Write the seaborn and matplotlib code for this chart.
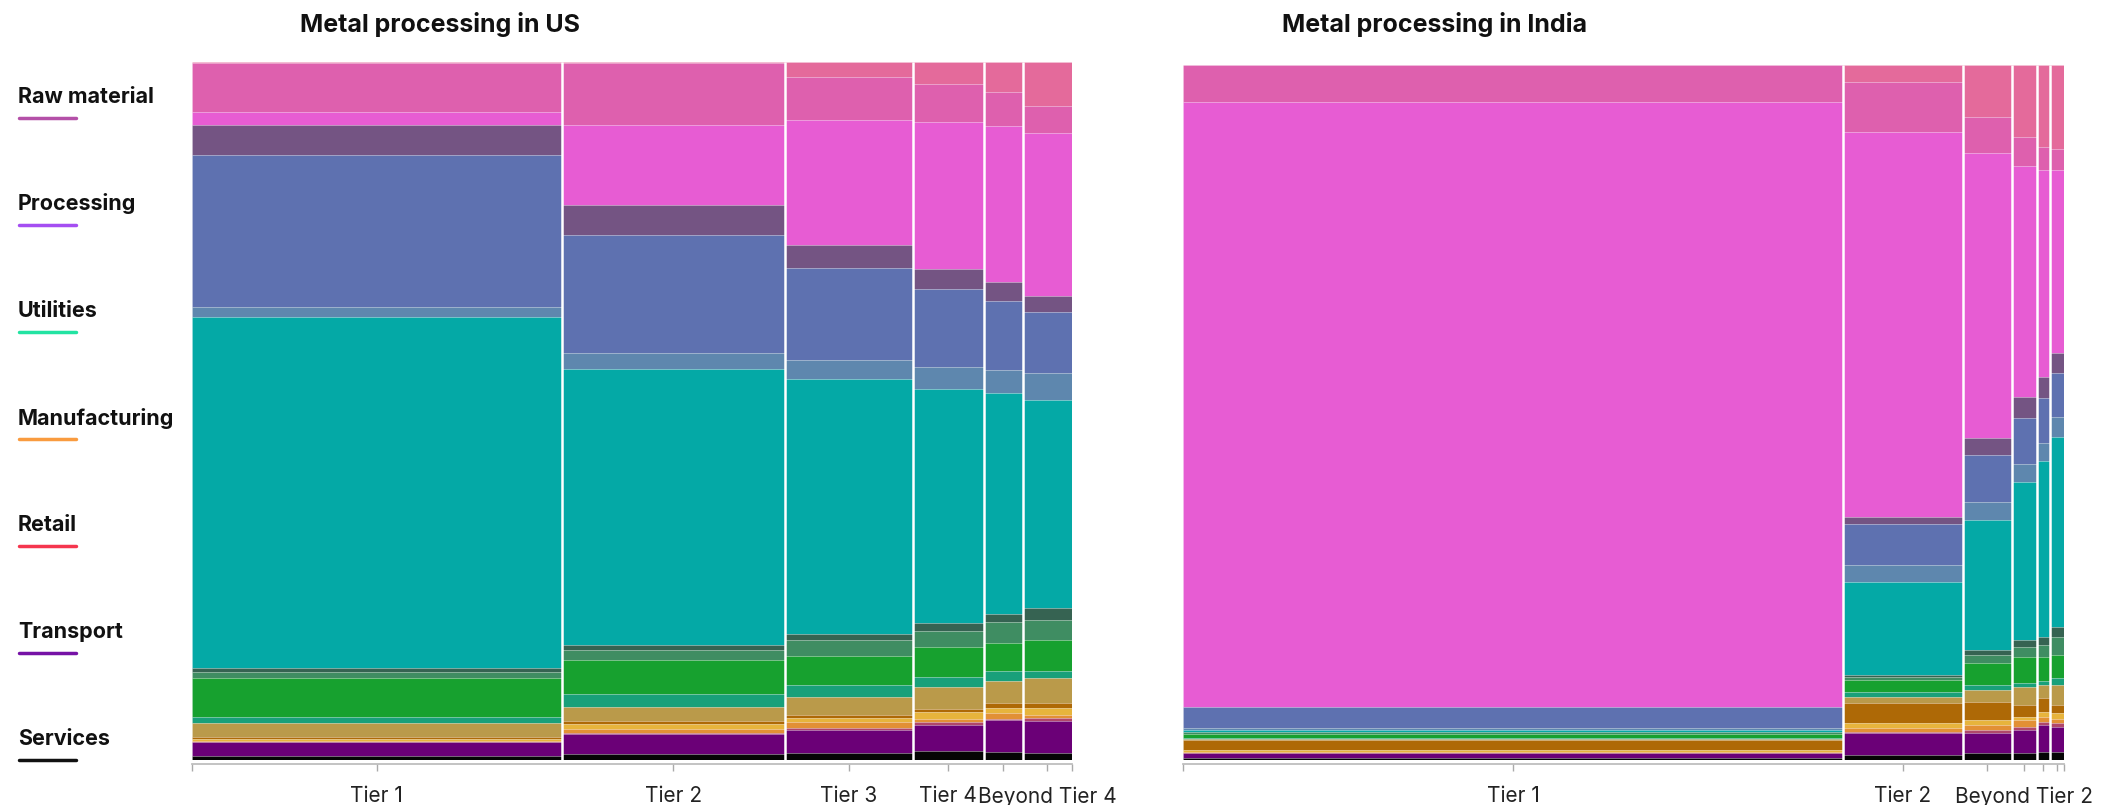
# %%

import numpy as np
import pandas as pd
import matplotlib.pyplot as plt
import seaborn as sns

# %%
# sub-segments, stacked top to bottom
segments = [
    'raw_a', 'raw_b', 'proc_a', 'proc_b', 'util_a', 'util_b', 'util_c',
    'manu_a', 'manu_b', 'manu_c', 'manu_d', 'manu_e', 'manu_f', 'manu_g',
    'manu_h', 'retail', 'transport', 'services'
]
seg_colors = [
    '#E46A9B', '#DE60AE', '#E75CD3', '#745483', '#5E71B0', '#5E87AE', '#04A9A6',
    '#366352', '#3F8D62', '#17A12F', '#19A07A', '#BA9A4A', '#AE6906', '#E7B43C',
    '#E29035', '#B0476A', '#6B0077', '#050505'
]

legend_labels = ['Raw material', 'Processing', 'Utilities', 'Manufacturing',
                 'Retail', 'Transport', 'Services']
legend_colors = ['#B450A8', '#A54EF2', '#22E3A2', '#F99B3F', '#F5364E',
                 '#7612A6', '#111111']

# US columns
us_widths = [370, 223, 128, 71, 39, 49]
us_tick_labels = ['Tier 1', 'Tier 2', 'Tier 3', 'Tier 4', '', 'Beyond Tier 4']
us_tier1 = [1, 49, 13, 30, 152, 10, 351, 4, 6, 39, 6, 14, 2, 2, 1, 0.5, 14, 4]
us_tier2 = [1, 62, 80, 30, 117, 16, 275, 5, 10, 34, 13, 14, 3, 5, 4, 1, 20, 6]
us_tier3 = [15, 43, 124, 23, 92, 19, 254, 6, 16, 29, 12, 18, 3, 4, 6, 2, 23, 7]
us_tier4 = [22, 38, 146, 20, 78, 22, 233, 8, 16, 30, 10, 22, 3, 7, 3, 3, 26, 9]
us_beyond_a = [30, 34, 156, 19, 69, 23, 220, 8, 21, 28, 10, 22, 5, 5, 6, 1, 32, 8]
us_beyond_b = [44, 27, 162, 16, 61, 27, 207, 12, 20, 30, 7, 25, 5, 7, 3, 3, 32, 7]

# India columns
in_widths = [660, 120, 49, 25, 13, 14]
in_tick_labels = ['Tier 1', 'Tier 2', '', 'Beyond Tier 2', '', '']
in_tier1 = [0, 37, 605, 0, 21, 2, 2, 0, 2, 4, 1, 1, 10, 2, 1, 0, 5, 2]
in_tier2 = [17, 50, 385, 7, 41, 17, 93, 2, 3, 12, 5, 6, 20, 5, 4, 1, 22, 5]
in_beyond_a = [52, 36, 285, 17, 47, 18, 130, 5, 8, 22, 5, 12, 18, 5, 5, 3, 20, 7]
in_beyond_b = [72, 29, 231, 21, 46, 18, 158, 7, 10, 26, 4, 18, 12, 3, 7, 3, 23, 7]
in_beyond_c = [82, 23, 207, 21, 45, 18, 176, 8, 12, 24, 4, 13, 14, 5, 5, 3, 27, 8]
in_beyond_d = [84, 21, 183, 20, 44, 20, 190, 10, 18, 23, 7, 20, 8, 6, 4, 4, 25, 8]

# %%
sns.set_theme(style='white')
plt.rcParams['font.family'] = ['Inter', 'DejaVu Sans']

fig = plt.figure(figsize=(21.23, 8.05), dpi=100)
ax_us = fig.add_axes([0.0904, 0.0559, 0.4145, 0.8671])
ax_in = fig.add_axes([0.5572, 0.0559, 0.4150, 0.8633])


def build_df(widths, cols):
    rows = []
    for i, (w, vals) in enumerate(zip(widths, cols)):
        for seg, v in zip(segments, vals):
            rows.append({'col': i, 'width': w, 'segment': seg, 'value': v})
    df = pd.DataFrame(rows)
    df['frac'] = df['value'] / df.groupby('col')['value'].transform('sum')
    # stack from the top down
    df['top'] = 1 - df.groupby('col')['frac'].cumsum() + df['frac']
    df['bottom'] = df['top'] - df['frac']
    total = sum(widths)
    edges = np.concatenate([[0], np.cumsum(widths)]) / total
    df['left'] = edges[df['col']]
    df['w'] = df['width'] / total
    return df, edges


def draw_mosaic(ax, widths, cols, tick_labels):
    df, edges = build_df(widths, cols)
    color_map = dict(zip(segments, seg_colors))
    for _, r in df.iterrows():
        if r['frac'] <= 0:
            continue
        ax.bar(r['left'], r['frac'], width=r['w'], bottom=r['bottom'],
               align='edge', color=color_map[r['segment']],
               edgecolor=(1, 1, 1, 0.15), linewidth=0.7)
    ax.vlines(edges[1:-1], 0, 1, color='white', lw=1.8, zorder=5)
    ax.set_xlim(0, 1)
    ax.set_ylim(0, 1)
    centers = (edges[:-1] + edges[1:]) / 2
    ax.set_xticks(centers)
    ax.set_xticklabels(tick_labels)
    ax.set_xticks([edges[0], edges[-1]], minor=True)
    ax.set_yticks([])
    ax.tick_params(axis='x', which='both', direction='out', length=5,
                   width=1, color='#aaaaaa', pad=11, bottom=True,
                   labelsize=15, labelcolor='#222222')
    sns.despine(ax=ax, left=True, top=True, right=True)
    ax.spines['bottom'].set_color('#bbbbbb')
    ax.spines['bottom'].set_position(('outward', 3))


draw_mosaic(ax_us, us_widths,
            [us_tier1, us_tier2, us_tier3, us_tier4, us_beyond_a, us_beyond_b],
            us_tick_labels)
draw_mosaic(ax_in, in_widths,
            [in_tier1, in_tier2, in_beyond_a, in_beyond_b, in_beyond_c, in_beyond_d],
            in_tick_labels)

fig.text(0.1413, 0.969, 'Metal processing in US', fontsize=18,
         fontweight='bold', ha='left', va='center', color='#111111')
fig.text(0.604, 0.969, 'Metal processing in India', fontsize=18,
         fontweight='bold', ha='left', va='center', color='#111111')

# legend on the left
for i, (lab, c) in enumerate(zip(legend_labels, legend_colors)):
    y = 1 - (97 + 107 * i) / 805
    fig.text(0.0085, y, lab, fontsize=15.5, fontweight='bold', ha='left',
             va='center', color='#111111')
    ly = y - 21 / 805
    fig.add_artist(plt.Line2D([0.009, 0.0358], [ly, ly], color=c, lw=2.5,
                              transform=fig.transFigure))

fig.savefig('out.png', dpi=100)
